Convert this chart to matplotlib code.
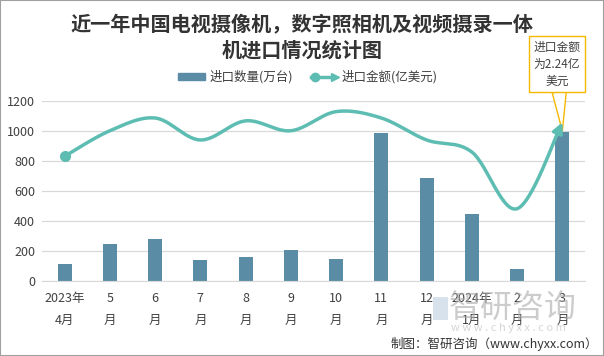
import numpy as np
import matplotlib.pyplot as plt
from matplotlib.legend_handler import HandlerBase
from matplotlib.lines import Line2D
from matplotlib.patches import Patch, Rectangle

plt.rcParams['font.family'] = ['Noto Sans CJK SC', 'DejaVu Sans']

months = ['2023年\n4月', '5\n月', '6\n月', '7\n月', '8\n月', '9\n月', '10\n月',
          '11\n月', '12\n月', '2024年\n1月', '2\n月', '3\n月']
qty = [115, 248, 280, 140, 160, 207, 147, 987, 687, 447, 80, 993]       # 万台
amount = [1.76, 2.12, 2.30, 1.99, 2.26, 2.12, 2.39, 2.30, 1.99, 1.82, 1.02, 2.24]  # 亿美元

bar_color = '#5a8da5'
line_color = '#5dbdb2'
text_color = '#404040'


def smooth(xs, ys, n=30):
    # excel-like smoothed line (bezier through the points)
    px = np.array(xs, float)
    py = np.array(ys, float)
    px = np.concatenate([[px[0]], px, [px[-1]]])
    py = np.concatenate([[py[0]], py, [py[-1]]])
    outx, outy = [], []
    t = np.linspace(0, 1, n)
    for i in range(1, len(px) - 2):
        p0 = np.array([px[i], py[i]])
        p3 = np.array([px[i + 1], py[i + 1]])
        c1 = p0 + (np.array([px[i + 1], py[i + 1]]) - np.array([px[i - 1], py[i - 1]])) / 6
        c2 = p3 - (np.array([px[i + 2], py[i + 2]]) - np.array([px[i], py[i]])) / 6
        pts = ((1 - t) ** 3)[:, None] * p0 + (3 * (1 - t) ** 2 * t)[:, None] * c1 \
            + (3 * (1 - t) * t ** 2)[:, None] * c2 + (t ** 3)[:, None] * p3
        outx.extend(pts[:, 0])
        outy.extend(pts[:, 1])
    return np.array(outx), np.array(outy)


class ArrowLineHandler(HandlerBase):
    def create_artists(self, legend, orig_handle, xdescent, ydescent,
                       width, height, fontsize, trans):
        y = height / 2 - ydescent
        ln = Line2D([0, width - 2], [y, y], color=line_color, lw=2.5, transform=trans)
        dot = Line2D([3], [y], marker='o', ms=6, color=line_color, transform=trans)
        tip = Line2D([width - 1], [y], marker='>', ms=5.5, color=line_color, transform=trans)
        return [ln, dot, tip]


fig = plt.figure(figsize=(6.04, 3.56), dpi=100)
ax = fig.add_axes([0.0695, 0.2107, 0.899, 0.5056])

x = np.arange(len(months))
ax.bar(x, qty, width=0.31, color=bar_color, zorder=2)
ax.set_xlim(-0.5, len(months) - 0.5)
ax.set_ylim(0, 1200)
ax.set_yticks(range(0, 1201, 200))
ax.set_xticks(x)
ax.set_xticklabels(months, fontsize=9, color=text_color, linespacing=1.85)
ax.tick_params(axis='y', labelsize=9, labelcolor=text_color, length=0, pad=5)
ax.tick_params(axis='x', length=0, pad=8)
ax.grid(axis='y', color='#d9d9d9', lw=0.9, zorder=0)
for s in ['top', 'right', 'left']:
    ax.spines[s].set_visible(False)
ax.spines['bottom'].set_color('#d9d9d9')

ax2 = ax.twinx()
ax2.set_ylim(0, 2.54)
ax2.axis('off')
sx, sy = smooth(x, amount)
ax2.plot(sx[:-4], sy[:-4], color=line_color, lw=2.5, zorder=3, solid_capstyle='round')
ax2.annotate('', xy=(sx[-1], sy[-1]), xytext=(sx[-6], sy[-6]),
             arrowprops=dict(arrowstyle='-|>,head_length=0.6,head_width=0.3',
                             color=line_color, lw=2.5, shrinkA=0, shrinkB=0))
ax2.plot(x[0], amount[0], 'o', ms=7, color=line_color, zorder=4)

# callout for last value
ax.annotate('进口金额\n为2.24亿\n美元', xy=(11, 1000), xycoords='data',
            xytext=(557, 292), textcoords='figure pixels',
            ha='center', va='center', fontsize=8.5, color=text_color, linespacing=1.4,
            bbox=dict(boxstyle='square,pad=0.35', fc='white', ec='#f5b800', lw=1),
            arrowprops=dict(arrowstyle='wedge,tail_width=1.2', fc='white', ec='#f5b800',
                            lw=1, shrinkA=0, shrinkB=0),
            zorder=6, annotation_clip=False)

fig.text(0.5, 0.896, '近一年中国电视摄像机，数字照相机及视频摄录一体\n机进口情况统计图',
         ha='center', va='center', fontsize=14.5, fontweight='bold', color='#333333',
         linespacing=1.3)

handles = [Patch(color=bar_color), Line2D([], [], color=line_color)]
fig.legend(handles, ['进口数量(万台)', '进口金额(亿美元)'], loc='center',
           bbox_to_anchor=(0.51, 0.783), ncol=2, frameon=False, fontsize=9,
           handlelength=2.1, handleheight=0.55, handletextpad=0.4, columnspacing=1.4,
           handler_map={Line2D: ArrowLineHandler()}, labelcolor=text_color)

# watermark
fig.patches.append(Rectangle((0.717, 0.101), 0.025, 0.065, transform=fig.transFigure,
                             fc='#c6d6e6', alpha=0.7, zorder=0))
fig.text(0.848, 0.135, '智研咨询', ha='center', va='center', fontsize=23,
         color='#aaaaaa', alpha=0.6, zorder=0)
fig.text(0.841, 0.079, 'w w w . c h y x x . c o m', ha='center', va='center',
         fontsize=8, color='#c4c4c4', alpha=0.7, zorder=0)

fig.text(0.99, 0.035, '制图：智研咨询（www.chyxx.com）', ha='right', va='center',
         fontsize=9, color='#333333')

fig.patches.append(Rectangle((0, 0), 1, 1, transform=fig.transFigure,
                             fill=False, ec='#a0a0a0', lw=1.5))

fig.savefig('out.png', dpi=100)
